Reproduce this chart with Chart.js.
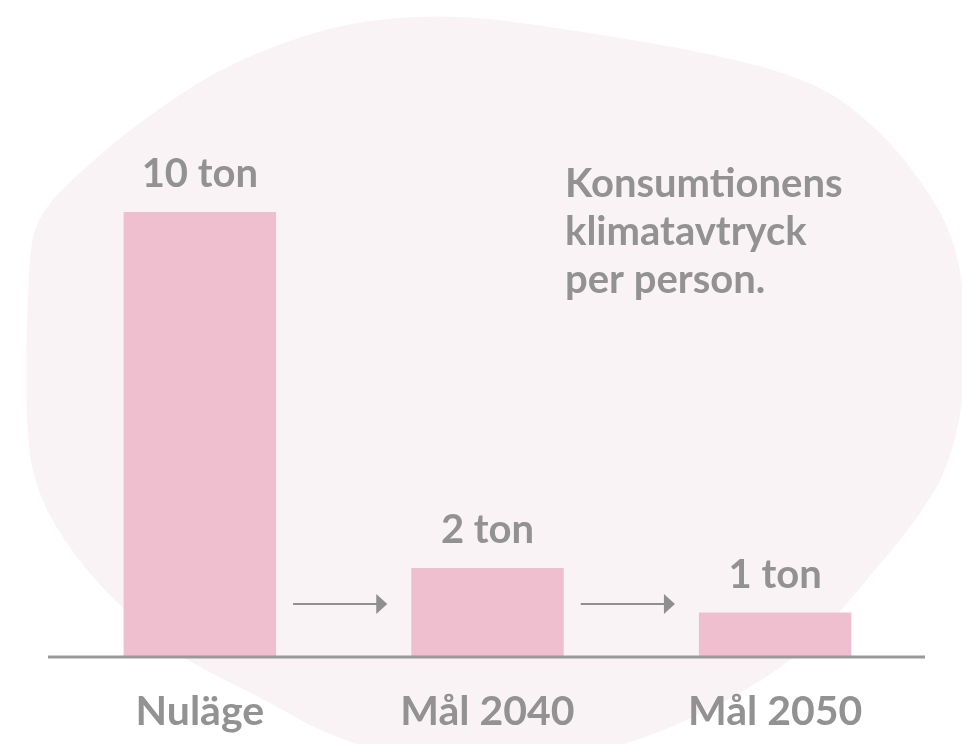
<!DOCTYPE html>
<html>
<head>
<meta charset="utf-8">
<script src="https://cdn.jsdelivr.net/npm/chart.js@4"></script>
<style>
    html, body { margin: 0; padding: 0; background: #ffffff; }
    #wrap { width: 962px; height: 744px; position: relative; }
</style>
</head>
<body>
<div id="wrap"><canvas id="klimatChart"></canvas></div>
<script>
// ============================================================
// DATA
// ============================================================
const kategorier = ['Nuläge', 'Mål 2040', 'Mål 2050'];
const tonPerPerson = [10, 2, 1];
const etiketter = ['10 ton', '2 ton', '1 ton'];
const rubrikRader = ['Konsumtionens', 'klimatavtryck', 'per person.'];

const GRA = '#929292';
const ROSA = '#efbfcf';
const FONT = 'Lato, "Open Sans", sans-serif';

// ============================================================
// PLUGINS
// ============================================================
// bakgrundsfläcken (ljusrosa)
const blobPlugin = {
    id: 'blob',
    beforeDraw(chart) {
        const ctx = chart.ctx;
        const pts = [
            [141,121],[215,71],[294,38],[368,19],[460,15],[560,28],[705,52],[816,81],
            [880,130],[922,182],[952,232],[966,300],[966,385],[950,465],[918,518],
            [880,564],[840,612],[799,656],[730,700],[651,737],[560,762],[420,762],
            [330,737],[262,698],[180,658],[123,610],[74,556],[37,495],[25,427],
            [28,266],[37,214],[92,161]
        ];
        ctx.save();
        ctx.fillStyle = '#faf3f6';
        ctx.beginPath();
        const n = pts.length;
        const mid = (a, b) => [(a[0] + b[0]) / 2, (a[1] + b[1]) / 2];
        let start = mid(pts[n - 1], pts[0]);
        ctx.moveTo(start[0], start[1]);
        for (let i = 0; i < n; i++) {
            const p = pts[i];
            const m = mid(p, pts[(i + 1) % n]);
            ctx.quadraticCurveTo(p[0], p[1], m[0], m[1]);
        }
        ctx.closePath();
        ctx.fill();
        ctx.restore();
    }
};

// axellinje, pilar, etiketter och rubrik
const extrasPlugin = {
    id: 'extras',
    afterDatasetsDraw(chart) {
        const ctx = chart.ctx;
        const area = chart.chartArea;
        const yScale = chart.scales.y;
        const base = yScale.getPixelForValue(0);
        const bars = chart.getDatasetMeta(0).data;

        ctx.save();

        // baslinje
        ctx.strokeStyle = '#999999';
        ctx.lineWidth = 3;
        ctx.beginPath();
        ctx.moveTo(area.left - 8, base);
        ctx.lineTo(area.right + 6, base);
        ctx.stroke();

        // pilar mellan staplarna
        ctx.strokeStyle = '#8f8f8f';
        ctx.fillStyle = '#8f8f8f';
        ctx.lineWidth = 2;
        const ay = base - 53;
        for (let i = 0; i < bars.length - 1; i++) {
            const x1 = bars[i].x + bars[i].width / 2 + 17;
            const x2 = bars[i + 1].x - bars[i + 1].width / 2 - 24;
            ctx.beginPath();
            ctx.moveTo(x1, ay);
            ctx.lineTo(x2 - 8, ay);
            ctx.stroke();
            ctx.beginPath();
            ctx.moveTo(x2, ay);
            ctx.lineTo(x2 - 11, ay - 10);
            ctx.lineTo(x2 - 11, ay + 10);
            ctx.closePath();
            ctx.fill();
        }

        // värdeetiketter
        ctx.fillStyle = GRA;
        ctx.font = 'bold 40px ' + FONT;
        ctx.textAlign = 'center';
        ctx.textBaseline = 'alphabetic';
        bars.forEach((b, i) => {
            ctx.fillText(etiketter[i], b.x, b.y - 25);
        });

        // rubrik
        ctx.textAlign = 'left';
        ctx.font = 'bold 40px ' + FONT;
        rubrikRader.forEach((rad, i) => {
            ctx.fillText(rad, 565, 197 + i * 48);
        });

        ctx.restore();
    }
};

// ============================================================
// CHART
// ============================================================
new Chart(document.getElementById('klimatChart').getContext('2d'), {
    type: 'bar',
    data: {
        labels: kategorier,
        datasets: [{
            data: tonPerPerson,
            backgroundColor: ROSA,
            borderWidth: 0,
            barPercentage: 1,
            categoryPercentage: 0.53
        }]
    },
    options: {
        responsive: true,
        maintainAspectRatio: false,
        animation: false,
        layout: { padding: { top: 212, left: 56, right: 43, bottom: 0 } },
        plugins: {
            legend: { display: false },
            tooltip: { enabled: false }
        },
        scales: {
            x: {
                grid: { display: false, drawTicks: false },
                border: { display: false },
                ticks: {
                    color: GRA,
                    padding: 30,
                    font: { family: FONT, size: 41, weight: 'bold' }
                },
                afterFit(scale) { scale.height = 87; }
            },
            y: {
                display: false,
                min: 0,
                max: 10
            }
        }
    },
    plugins: [blobPlugin, extrasPlugin]
});
</script>
</body>
</html>
